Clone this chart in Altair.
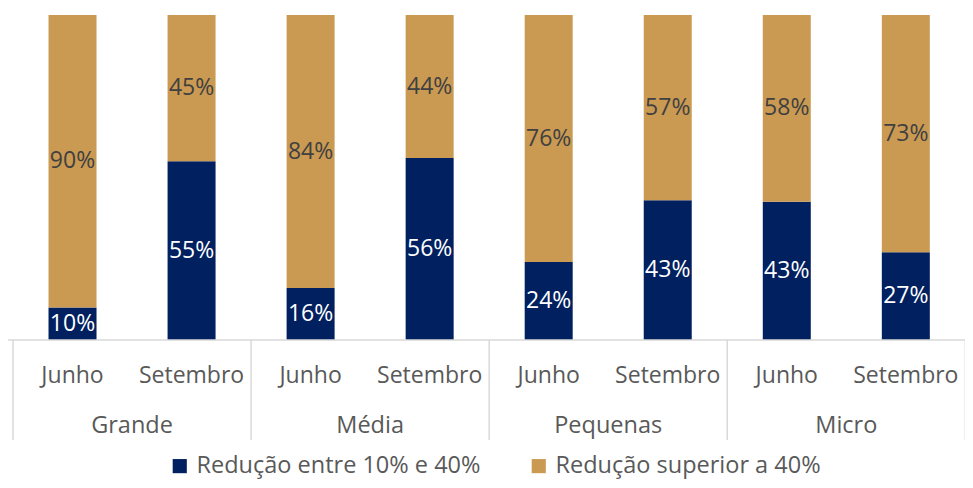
import altair as alt
import pandas as pd

groups = ["Grande", "Média", "Pequenas", "Micro"]
months = ["Junho", "Setembro"]
series = ["Redução entre 10% e 40%", "Redução superior a 40%"]
reducao_10_40 = [10, 55, 16, 56, 24, 43, 43, 27]
reducao_sup_40 = [90, 45, 84, 44, 76, 57, 58, 73]
colors = ["#002060", "#CA9A53"]

FONT = "Open Sans"
W, H = 957, 325

rows = []
for i in range(8):
    g = groups[i // 2]
    m = months[i % 2]
    for k, vals in enumerate([reducao_10_40, reducao_sup_40]):
        rows.append({"idx": i, "pos": i + 0.5, "grupo": g, "mes": m,
                     "serie": series[k], "ord": k, "value": vals[i]})
df = pd.DataFrame(rows)

month_df = pd.DataFrame({"pos": [i + 0.5 for i in range(8)],
                         "mes": [months[i % 2] for i in range(8)]})
group_df = pd.DataFrame({"pos": [2 * j + 1 for j in range(4)], "grupo": groups})
sep_df = pd.DataFrame({"pos": [0, 2, 4, 6, 8]})

xscale = alt.Scale(domain=[0, W / 120.3], nice=False, zero=False)
yscale = alt.Scale(domain=[0, 1], nice=False)

bars = alt.Chart(df).mark_bar(size=48).encode(
    x=alt.X("pos:Q", scale=xscale, axis=None),
    y=alt.Y("value:Q", stack="normalize", scale=yscale, axis=None),
    color=alt.Color("serie:N", scale=alt.Scale(domain=series, range=colors),
                    legend=alt.Legend(title=None, orient="none", direction="horizontal",
                                      legendX=160, legendY=439, symbolType="square",
                                      symbolSize=200, symbolStrokeWidth=0,
                                      labelFont=FONT, labelFontSize=23.5,
                                      labelColor="#595959", labelLimit=0,
                                      labelOffset=5, columnPadding=46)),
    order=alt.Order("ord:Q"),
)

labels = alt.Chart(df).transform_stack(
    stack="value", groupby=["idx"], as_=["v0", "v1"], sort=[{"field": "ord"}],
    offset="normalize"
).transform_calculate(
    mid="(datum.v0 + datum.v1) / 2", label="datum.value + '%'"
).mark_text(font=FONT, fontSize=23).encode(
    x=alt.X("pos:Q", scale=xscale),
    y=alt.Y("mid:Q", scale=yscale),
    text="label:N",
    color=alt.condition(alt.datum.ord == 0, alt.value("#FFFFFF"), alt.value("#404040")),
)

axis_line = alt.Chart(sep_df.head(1)).mark_rule(color="#D9D9D9", strokeWidth=1.5).encode(
    x=alt.value(0), x2=alt.value(W), y=alt.value(H))

seps = alt.Chart(sep_df).mark_rule(color="#D9D9D9", strokeWidth=1.5).encode(
    x=alt.X("pos:Q", scale=xscale), y=alt.value(H), y2=alt.value(H + 100))

month_text = alt.Chart(month_df).mark_text(font=FONT, fontSize=23, color="#595959").encode(
    x=alt.X("pos:Q", scale=xscale), y=alt.value(H + 36), text="mes:N")

group_text = alt.Chart(group_df).mark_text(font=FONT, fontSize=23.5, color="#595959").encode(
    x=alt.X("pos:Q", scale=xscale), y=alt.value(H + 86), text="grupo:N")

chart = alt.layer(bars, labels, axis_line, seps, month_text, group_text).properties(
    width=W, height=H,
    autosize=alt.AutoSizeParams(type="none"),
    padding={"left": 0, "top": 7, "right": 0, "bottom": 140},
).configure_view(stroke=None)

chart.save("out.html", embed_options={"renderer": "svg", "actions": False})
